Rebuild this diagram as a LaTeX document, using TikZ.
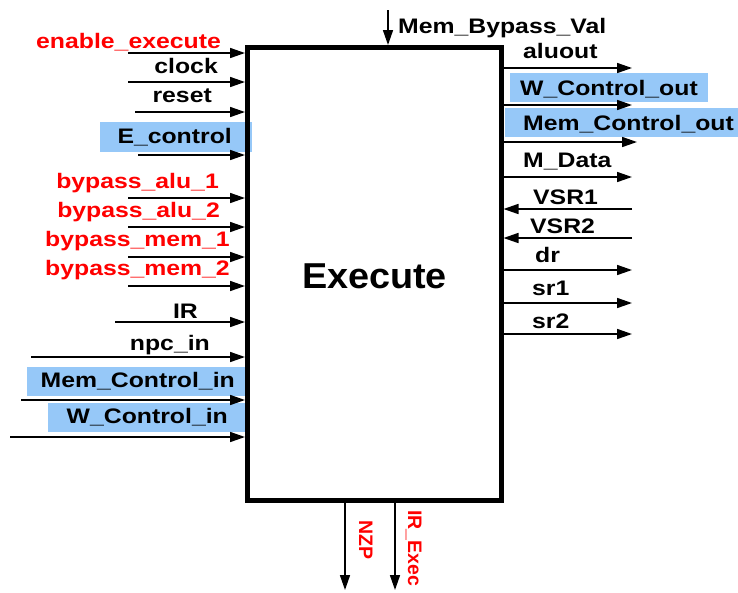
\documentclass[tikz,border=0pt]{standalone}
\usepackage{fontspec}
\setmainfont{Liberation Sans}
\newfontfamily\sigfont[FakeStretch=1.18]{Liberation Sans}
\newfontfamily\titlefont[FakeStretch=1.05]{Liberation Sans}
\usetikzlibrary{arrows.meta}
\definecolor{hlblue}{RGB}{150,200,248}
\definecolor{sigred}{RGB}{255,0,0}
\begin{document}
\begin{tikzpicture}[x=1pt,y=-1pt,
  sig/.style={font=\sigfont\bfseries\fontsize{21}{24}\selectfont, inner sep=0pt},
  vsig/.style={font=\bfseries\fontsize{19.5}{22}\selectfont, inner sep=0pt, rotate=-90, anchor=base west, text=sigred},
  hl/.style={fill=hlblue, draw=none},
  wire/.style={line width=1.6pt, -{Triangle[length=15pt,width=10pt]}},
  blockbox/.style={draw, line width=5pt, minimum width=253.5pt, minimum height=453pt, inner sep=0pt}]
\useasboundingbox (0,0) rectangle (738,592);

% highlighted control signals
\fill[hl] (100,122) rectangle (252,152);
\fill[hl] (27,367) rectangle (248,396);
\fill[hl] (48,403) rectangle (248,432);
\fill[hl] (510,73) rectangle (708,102);
\fill[hl] (505,108) rectangle (738,137);

% the Execute block
\node[blockbox] (ex) at (374.25,274) {};
\node[font=\titlefont\bfseries\fontsize{36}{40}\selectfont, inner sep=0pt] (title) at (374.5,276) {Execute};

% inputs on the left
\foreach \n/\txt/\col/\lx/\ly/\ay/\sx in {
  1/enable\_execute/sigred/221/48/53/128,
  2/clock/black/218/73/82/128,
  3/reset/black/212/102/112/135,
  4/E\_control/black/232/143/155/138,
  5/bypass\_alu\_1/sigred/219/188/198/128,
  6/bypass\_alu\_2/sigred/220/217/227/128,
  7/bypass\_mem\_1/sigred/230/246/257/128,
  8/bypass\_mem\_2/sigred/230/275/286/128,
  9/IR/black/198/318/322/115,
  10/npc\_in/black/210/350/357/31,
  11/Mem\_Control\_in/black/235/387/400/21,
  12/W\_Control\_in/black/228/423/437/10}{
  \node[sig, anchor=base east, text=\col] (inl\n) at (\lx,\ly) {\txt};
  \coordinate (ins\n) at (\sx,\ay);
  \draw[wire] (ins\n) -- (ins\n -| ex.west);
}

% outputs on the right
\foreach \n/\txt/\lx/\ly/\ay/\ex in {
  1/aluout/523/58/68/632,
  2/W\_Control\_out/520/95/105/632,
  3/Mem\_Control\_out/523/130/142/637,
  4/M\_Data/523/167/177/632,
  5/dr/535/262/270/632,
  6/sr1/532/295/303/632,
  7/sr2/532/328/334/632}{
  \node[sig, anchor=base west] (outl\n) at (\lx,\ly) {\txt};
  \coordinate (oute\n) at (\ex,\ay);
  \draw[wire] (oute\n -| ex.east) -- (oute\n);
}

% values fed back into the block from the right
\foreach \n/\txt/\lx/\ly/\ay in {
  1/VSR1/533/204/209,
  2/VSR2/530/233/238}{
  \node[sig, anchor=base west] (vsrl\n) at (\lx,\ly) {\txt};
  \coordinate (vsrs\n) at (632,\ay);
  \draw[wire] (vsrs\n) -- (vsrs\n -| ex.east);
}

% bypass value entering from the top
\node[sig, anchor=base west] (bypl) at (398,33) {Mem\_Bypass\_Val};
\coordinate (byps) at (388,10);
\draw[wire] (byps) -- (byps |- ex.north);

% outputs at the bottom
\coordinate (nzpe) at (345,590);
\coordinate (ire) at (395,590);
\draw[wire] (nzpe |- ex.south) -- (nzpe);
\draw[wire] (ire |- ex.south) -- (ire);
\node[vsig] (nzpl) at (359,520) {NZP};
\node[vsig] (irl) at (408,510) {IR\_Exec};
\end{tikzpicture}
\end{document}
